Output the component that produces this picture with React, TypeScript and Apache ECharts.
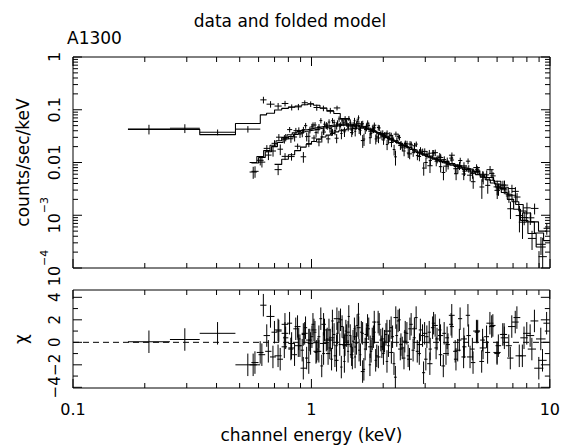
import React, { useEffect, useRef } from "react";
import * as echarts from "echarts";

const FONT = '"DejaVu Sans", sans-serif';

// ---- tick labels ----
const X_LABELS: Record<string, string> = { "-1": "0.1", "0": "1", "1": "10" };
const Y_LABELS: Record<string, string> = {
  "0": "{b|1}",
  "-1": "{b|0.1}",
  "-2": "{b|0.01}",
  "-3": "{b|10}{s|−3}",
  "-4": "{b|10}{s|−4}",
};
const CHI_TICKS = [-4, -2, 0, 2, 4];
const CHI_LABELS = ["−4", "−2", "0", "2", "4"];

// ---- dataset 1 (low-energy instrument) ----
const D1_EDGES = [0.17, 0.255, 0.34, 0.48, 0.61, 0.648, 0.70, 0.75, 0.80, 0.853, 0.91, 0.965, 1.02, 1.085, 1.16, 1.24, 1.32, 1.45];
const D1_MODEL = [0.0425, 0.0425, 0.0337, 0.055, 0.080, 0.086, 0.099, 0.106, 0.113, 0.118, 0.124, 0.130, 0.122, 0.108, 0.094, 0.085, 0.068];
const D1_CHI = [0.05, 0.25, 0.8, -2.0, 3.3, 2.3, 1.1, 1.6, -0.1, -0.3, 0.8, -0.1, -0.8, -0.1, 0.2, 2.1, -0.2];
const D1_ERR_PCT = [21, 20, 14, 11, 28, 21, 17, 15, 13, 13, 12, 12, 12, 12, 13, 13, 14];

// ---- dataset 2 ----
const D2_EDGES = [0.56, 0.60, 0.64, 0.68, 0.72, 0.76, 0.80, 0.84, 0.88, 0.91, 0.94, 0.97, 1.00, 1.03, 1.06, 1.09, 1.12, 1.15, 1.18, 1.21, 1.24, 1.27, 1.30, 1.33, 1.36, 1.39, 1.42, 1.45, 1.48, 1.51, 1.54, 1.57, 1.60, 1.64, 1.68, 1.72, 1.76, 1.80, 1.84, 1.88, 1.93, 1.98, 2.03, 2.08, 2.13, 2.19, 2.25, 2.31, 2.37, 2.44, 2.51, 2.58, 2.66, 2.74, 2.82, 2.91, 3.00, 3.10, 3.20, 3.31, 3.42, 3.54, 3.67, 3.81, 3.96, 4.12, 4.29, 4.47, 4.66, 4.87, 5.10, 5.35, 5.62, 5.92, 6.25, 6.62, 7.04, 7.52, 8.08, 8.75, 9.60];
const D2_MODEL = [0.0098, 0.0125, 0.0160, 0.0200, 0.0240, 0.0280, 0.0310, 0.0340, 0.0362, 0.0378, 0.0392, 0.0404, 0.0415, 0.0426, 0.0437, 0.0447, 0.0457, 0.0466, 0.0475, 0.0483, 0.0490, 0.0497, 0.0503, 0.0508, 0.0511, 0.0512, 0.0510, 0.0506, 0.0500, 0.0493, 0.0485, 0.0476, 0.0465, 0.0452, 0.0438, 0.0423, 0.0408, 0.0392, 0.0376, 0.0358, 0.0338, 0.0318, 0.0300, 0.0284, 0.0268, 0.0253, 0.0239, 0.0226, 0.0213, 0.0200, 0.0188, 0.0176, 0.0165, 0.0155, 0.0146, 0.0138, 0.0130, 0.0123, 0.0116, 0.0110, 0.0104, 0.0099, 0.0094, 0.0089, 0.0084, 0.0079, 0.0074, 0.0069, 0.0064, 0.0059, 0.0053, 0.0047, 0.0041, 0.0034, 0.0027, 0.0020, 0.0013, 0.00080, 0.00045, 0.00025];
const D2_CHI = [-1.8, -1.1, -0.8, 0.9, -1.5, 0.4, -0.6, 1.2, -0.3, 0.7, -1.4, 0.2, 1.6, -0.9, 0.5, -2.1, 1.1, 0.3, -0.5, 1.9, -1.2, 0.8, -0.2, 1.4, -1.7, 0.6, 2.3, -0.4, 0.1, -1.3, 1.5, -0.7, 0.9, -2.4, 0.3, 1.2, -0.8, 0.5, -1.6, 1.8, 0.2, -1.0, 0.7, -0.3, 1.3, -1.9, 0.6, 2.0, -0.5, 0.9, -1.2, 1.6, 0.4, -0.8, 1.1, -2.7, 0.5, -0.6, 1.7, 0.3, -1.1, 0.8, -0.2, 1.4, -1.5, 2.1, -0.4, 0.6, -1.8, 1.0, 0.2, -0.9, 1.5, -0.3, 0.7, -1.4, 2.2, 0.4, -0.6, 0.3];

// ---- dataset 3 ----
const D3_EDGES = [0.55, 0.59, 0.63, 0.67, 0.71, 0.75, 0.79, 0.83, 0.87, 0.90, 0.93, 0.96, 0.99, 1.02, 1.05, 1.08, 1.11, 1.14, 1.17, 1.20, 1.23, 1.26, 1.29, 1.32, 1.35, 1.38, 1.41, 1.44, 1.47, 1.50, 1.53, 1.56, 1.59, 1.62, 1.66, 1.70, 1.74, 1.78, 1.82, 1.86, 1.90, 1.95, 2.00, 2.05, 2.10, 2.16, 2.22, 2.28, 2.34, 2.41, 2.48, 2.55, 2.63, 2.71, 2.79, 2.88, 2.97, 3.07, 3.17, 3.28, 3.39, 3.51, 3.64, 3.78, 3.93, 4.09, 4.26, 4.44, 4.63, 4.84, 5.06, 5.30, 5.56, 5.85, 6.17, 6.53, 6.93, 7.40, 7.95, 8.60, 9.40, 10.0];
const D3_MODEL = [0.0100, 0.0130, 0.0168, 0.0212, 0.0258, 0.0300, 0.0335, 0.0365, 0.0388, 0.0404, 0.0418, 0.0430, 0.0442, 0.0453, 0.0464, 0.0474, 0.0484, 0.0493, 0.0501, 0.0508, 0.0515, 0.0521, 0.0526, 0.0530, 0.0533, 0.0534, 0.0533, 0.0530, 0.0525, 0.0519, 0.0511, 0.0502, 0.0492, 0.0480, 0.0466, 0.0450, 0.0433, 0.0415, 0.0397, 0.0379, 0.0360, 0.0340, 0.0320, 0.0302, 0.0285, 0.0269, 0.0254, 0.0240, 0.0226, 0.0213, 0.0200, 0.0188, 0.0176, 0.0165, 0.0155, 0.0146, 0.0137, 0.0129, 0.0122, 0.0116, 0.0110, 0.0104, 0.0099, 0.0094, 0.0089, 0.0084, 0.0079, 0.0074, 0.0069, 0.0064, 0.0058, 0.0052, 0.0046, 0.0039, 0.0032, 0.0025, 0.0018, 0.0012, 0.00075, 0.00046, 0.00033];
const D3_CHI = [-2.0, -0.9, 0.6, -1.3, 1.0, -0.4, 1.7, -1.1, 0.3, -0.7, 1.3, -1.8, 0.5, 0.9, -0.6, 2.1, -1.0, 0.2, 1.1, -1.5, 0.7, -0.3, 1.8, -2.2, 0.4, 1.0, -0.8, 0.6, -1.4, 1.2, -0.1, 2.5, -1.1, 0.8, -0.6, 1.5, -2.0, 0.3, 0.9, -1.2, 1.6, -0.4, 0.1, -1.7, 1.0, 0.5, -3.1, 1.9, -0.2, -1.4, 0.8, 1.2, -0.7, 2.2, -1.0, 0.6, -1.5, 0.9, 1.3, -0.5, 1.1, -2.1, 0.4, 1.6, -0.8, 0.2, -1.3, 2.4, -0.6, 0.9, -1.7, 0.5, 1.4, -1.0, 0.7, -0.3, 1.8, -1.2, 0.6, -2.3, 1.7];

// ---- dataset 4 ----
const D4_EDGES = [0.70, 0.75, 0.80, 0.85, 0.90, 0.95, 1.00, 1.05, 1.10, 1.15, 1.20, 1.25, 1.30, 1.35, 1.40, 1.45, 1.50, 1.55, 1.61, 1.67, 1.73, 1.80, 1.87, 1.95, 2.03, 2.12, 2.21, 2.31, 2.41, 2.52, 2.64, 2.77, 2.91, 3.06, 3.22, 3.39, 3.57, 3.77, 3.99, 4.23, 4.49, 4.77, 5.08, 5.42, 5.80, 6.22, 6.68, 7.18, 7.72, 8.30, 8.95, 9.70];
const D4_MODEL = [0.0092, 0.0115, 0.0140, 0.0168, 0.0196, 0.0222, 0.0250, 0.0278, 0.0305, 0.0330, 0.0355, 0.0380, 0.0400, 0.0418, 0.0432, 0.0442, 0.0448, 0.0450, 0.0446, 0.0435, 0.0418, 0.0395, 0.0368, 0.0338, 0.0308, 0.0280, 0.0255, 0.0232, 0.0211, 0.0192, 0.0174, 0.0158, 0.0144, 0.0132, 0.0121, 0.0112, 0.0104, 0.0096, 0.0089, 0.0082, 0.0075, 0.0068, 0.0060, 0.0052, 0.0044, 0.0034, 0.0024, 0.0016, 0.0011, 0.00075, 0.00050];
const D4_CHI = [-1.2, 0.8, -0.5, 1.4, -2.3, 0.2, 1.1, -0.8, 1.6, -1.0, 0.4, -1.6, 2.0, -0.3, 0.9, -1.1, 0.5, 1.3, -2.6, 0.7, -0.4, 1.8, -1.3, 0.3, 1.0, -0.9, 2.2, -0.6, 0.1, -1.5, 1.2, -0.2, 0.8, -1.9, 1.5, 0.6, -1.0, 2.4, -0.7, 0.3, -1.3, 1.0, -0.5, 1.7, -0.9, 0.4, 1.4, -1.2, 0.8, 1.9, -1.6];

// relative 1-sigma error (%) of the binned data, by energy band
const ERR_BAND_EDGES = [0, 0.8, 1.5, 3, 5, 7, 8.5, 20];
const ERR_BAND_PCT = [17, 15, 16, 18, 24, 32, 42];

const X_MIN = 0.1, X_MAX = 10, Y_MIN = 1e-4, Y_MAX = 1, C_MIN = -4.06, C_MAX = 4.65;

type Bin = { lo: number; hi: number; c: number; m: number; d: number; err: number; chi: number };

function bandPct(e: number) {
  for (let i = 0; i < ERR_BAND_PCT.length; i++) {
    if (e >= ERR_BAND_EDGES[i] && e < ERR_BAND_EDGES[i + 1]) return ERR_BAND_PCT[i];
  }
  return ERR_BAND_PCT[ERR_BAND_PCT.length - 1];
}

function buildBins(edges: number[], model: number[], chi: number[], pct?: number[]): Bin[] {
  const n = Math.min(edges.length - 1, model.length, chi.length);
  const out: Bin[] = [];
  for (let i = 0; i < n; i++) {
    const lo = edges[i], hi = edges[i + 1];
    const c = Math.sqrt(lo * hi);
    const m = model[i];
    const p = pct ? pct[i] : bandPct(c);
    const err = (m * p) / 100;
    out.push({ lo, hi, c, m, d: m + chi[i] * err, err, chi: chi[i] });
  }
  return out;
}

const DATASETS = [
  buildBins(D1_EDGES, D1_MODEL, D1_CHI, D1_ERR_PCT),
  buildBins(D2_EDGES, D2_MODEL, D2_CHI),
  buildBins(D3_EDGES, D3_MODEL, D3_CHI),
  buildBins(D4_EDGES, D4_MODEL, D4_CHI),
];

const INK = "#000";

function crossRender(params: any, api: any) {
  const cs = params.coordSys;
  const top = cs.y, bot = cs.y + cs.height, left = cs.x, right = cs.x + cs.width;
  const lo = api.value(0), hi = api.value(1), c = api.value(2), v = api.value(3), vl = api.value(4), vh = api.value(5);
  const a = api.coord([lo, v]);
  const b = api.coord([hi, v]);
  const p = api.coord([c, vl]);
  const q = api.coord([c, vh]);
  const children: any[] = [];
  const clampY = (y: number) => Math.max(top, Math.min(bot, isFinite(y) ? y : bot));
  const clampX = (x: number) => Math.max(left, Math.min(right, x));
  if (a[1] >= top && a[1] <= bot) {
    children.push({ type: "line", shape: { x1: clampX(a[0]), y1: a[1], x2: clampX(b[0]), y2: b[1] }, style: { stroke: INK, lineWidth: 1 } });
  }
  const y1 = clampY(p[1]), y2 = clampY(q[1]);
  if (y1 !== y2 && p[0] >= left && p[0] <= right) {
    children.push({ type: "line", shape: { x1: p[0], y1, x2: p[0], y2 }, style: { stroke: INK, lineWidth: 1 } });
  }
  return { type: "group", children };
}

function xTickRender(params: any, api: any) {
  const cs = params.coordSys;
  const x = api.coord([api.value(0), api.value(2)])[0];
  const L = api.value(1) ? 9 : 5;
  const st = { stroke: INK, lineWidth: 1 };
  return {
    type: "group",
    children: [
      { type: "line", shape: { x1: x, y1: cs.y + cs.height, x2: x, y2: cs.y + cs.height - L }, style: st },
      { type: "line", shape: { x1: x, y1: cs.y, x2: x, y2: cs.y + L }, style: st },
    ],
  };
}

function yTickRender(params: any, api: any) {
  const cs = params.coordSys;
  const y = api.coord([api.value(2), api.value(0)])[1];
  const L = api.value(1) ? 9 : 5;
  const st = { stroke: INK, lineWidth: 1 };
  return {
    type: "group",
    children: [
      { type: "line", shape: { x1: cs.x, y1: y, x2: cs.x + L, y2: y }, style: st },
      { type: "line", shape: { x1: cs.x + cs.width, y1: y, x2: cs.x + cs.width - L, y2: y }, style: st },
    ],
  };
}

function logTicks(fromDecade: number, toDecade: number): number[][] {
  const t: number[][] = [];
  for (let d = fromDecade; d < toDecade; d++) {
    for (let k = 1; k <= 9; k++) t.push([k * Math.pow(10, d), k === 1 ? 1 : 0]);
  }
  t.push([Math.pow(10, toDecade), 1]);
  return t;
}

export default function App() {
  const ref = useRef<HTMLDivElement>(null);
  useEffect(() => {
    if (!ref.current) return;
    const chart = echarts.init(ref.current, undefined, { renderer: "svg" });
    const labelStyle = { fontFamily: FONT, fontSize: 16, color: INK };
    const nameStyle = { fontFamily: FONT, fontSize: 17, color: INK };

    const series: any[] = [];
    series.push({
      type: "line", xAxisIndex: 1, yAxisIndex: 1, data: [[X_MIN, 0], [X_MAX, 0]],
      symbol: "none", silent: true, lineStyle: { color: INK, width: 1, type: [6, 4] },
    });
    DATASETS.forEach((bins) => {
      series.push({
        type: "line", xAxisIndex: 0, yAxisIndex: 0, symbol: "none", silent: true,
        data: bins.flatMap((b) => [[b.lo, b.m], [b.hi, b.m]]),
        lineStyle: { color: INK, width: 1.1 },
      });
      series.push({
        type: "custom", xAxisIndex: 0, yAxisIndex: 0, silent: true, renderItem: crossRender,
        encode: { x: [0, 1, 2], y: [3, 4, 5] },
        data: bins.map((b) => [b.lo, b.hi, b.c, b.d, Math.max(b.d - b.err, 1e-7), b.d + b.err]),
      });
      series.push({
        type: "custom", xAxisIndex: 1, yAxisIndex: 1, silent: true, renderItem: crossRender,
        encode: { x: [0, 1, 2], y: [3, 4, 5] },
        data: bins.map((b) => [b.lo, b.hi, b.c, b.chi, b.chi - 1, b.chi + 1]),
      });
    });
    const xt = logTicks(-1, 1);
    const yt = logTicks(-4, 0);
    series.push({ type: "custom", xAxisIndex: 0, yAxisIndex: 0, silent: true, renderItem: xTickRender, encode: { x: 0, y: 2 }, data: xt.map((t) => [t[0], t[1], 0.01]) });
    series.push({ type: "custom", xAxisIndex: 1, yAxisIndex: 1, silent: true, renderItem: xTickRender, encode: { x: 0, y: 2 }, data: xt.map((t) => [t[0], t[1], 0]) });
    series.push({ type: "custom", xAxisIndex: 0, yAxisIndex: 0, silent: true, renderItem: yTickRender, encode: { x: 2, y: 0 }, data: yt.map((t) => [t[0], t[1], 1]) });
    const ct: number[][] = [];
    for (let v = -4; v <= 4; v++) ct.push([v, v % 2 === 0 ? 1 : 0, 1]);
    series.push({ type: "custom", xAxisIndex: 1, yAxisIndex: 1, silent: true, renderItem: yTickRender, encode: { x: 2, y: 0 }, data: ct });

    const decade = (v: number) => String(Math.round(Math.log10(v)));

    chart.setOption({
      animation: false,
      backgroundColor: "#fff",
      textStyle: { fontFamily: FONT },
      grid: [
        { left: 73, top: 57, width: 477, height: 211, show: true, borderColor: INK, borderWidth: 1, backgroundColor: "transparent" },
        { left: 73, top: 290, width: 477, height: 98, show: true, borderColor: INK, borderWidth: 1, backgroundColor: "transparent" },
      ],
      xAxis: [
        {
          gridIndex: 0, type: "log", logBase: 10, min: X_MIN, max: X_MAX,
          axisLine: { show: false }, axisTick: { show: false }, axisLabel: { show: false }, splitLine: { show: false },
        },
        {
          gridIndex: 1, type: "log", logBase: 10, min: X_MIN, max: X_MAX,
          axisLine: { show: false }, axisTick: { show: false }, splitLine: { show: false },
          axisLabel: { ...labelStyle, margin: 13, formatter: (v: number) => X_LABELS[decade(v)] ?? "" },
          name: "channel energy (keV)", nameLocation: "middle", nameGap: 38,
          nameTextStyle: { ...nameStyle },
        },
      ],
      yAxis: [
        {
          gridIndex: 0, type: "log", logBase: 10, min: Y_MIN, max: Y_MAX,
          axisLine: { show: false }, axisTick: { show: false }, splitLine: { show: false },
          axisLabel: {
            ...labelStyle, rotate: 90, margin: 11,
            formatter: (v: number) => Y_LABELS[decade(v)] ?? "",
            rich: {
              b: { fontFamily: FONT, fontSize: 16, color: INK, lineHeight: 23, verticalAlign: "bottom" },
              s: { fontFamily: FONT, fontSize: 11, color: INK, lineHeight: 23, verticalAlign: "top" },
            },
          },
          name: "counts/sec/keV", nameLocation: "middle", nameGap: 38, nameRotate: 90,
          nameTextStyle: { ...nameStyle },
        },
        {
          gridIndex: 1, type: "value", min: C_MIN, max: C_MAX,
          axisLine: { show: false }, axisTick: { show: false }, splitLine: { show: false },
          axisLabel: {
            fontFamily: FONT, fontSize: 15, color: INK, rotate: 90, margin: 11, customValues: CHI_TICKS,
            hideOverlap: false, interval: 0,
            formatter: (v: number) => CHI_LABELS[CHI_TICKS.indexOf(Math.round(v))] ?? "",
          },
          name: "χ", nameLocation: "middle", nameGap: 44, nameRotate: 90,
          nameTextStyle: { ...nameStyle },
        },
      ],
      graphic: [
        { type: "text", x: 290, y: 29, style: { text: "data and folded model", font: `17px ${FONT}`, fill: INK, align: "center", verticalAlign: "bottom" } },
        { type: "text", x: 67, y: 46, style: { text: "A1300", font: `17px ${FONT}`, fill: INK, align: "left", verticalAlign: "bottom" } },
      ],
      series,
    });
    return () => chart.dispose();
  }, []);
  return <div ref={ref} style={{ position: "fixed", left: 0, top: 0, width: 563, height: 445 }} />;
}
